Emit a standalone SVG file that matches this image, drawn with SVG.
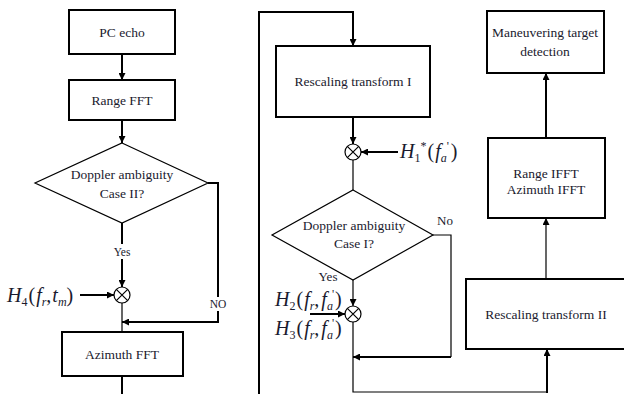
<svg xmlns="http://www.w3.org/2000/svg" width="624" height="394" viewBox="0 0 624 394">
<style>
.box{fill:#fff;stroke:#000;stroke-width:2}
.dia{fill:#fff;stroke:#000;stroke-width:1.2}
.t{font-family:"Liberation Serif",serif;font-size:13.5px;fill:#1a1a2e;text-anchor:middle}
.lbl{font-family:"Liberation Serif",serif;fill:#1a1a2e;text-anchor:middle}
.m{font-family:"Liberation Serif",serif;font-size:20px;font-style:italic;fill:#1a1a2e}
.s{font-size:12px;font-style:normal}
.si{font-size:12px;font-style:italic}
.n{font-style:normal}
.w{fill:none;stroke:#000;stroke-width:2}
.th{fill:none;stroke:#000;stroke-width:1.2}
.mul{fill:#fff;stroke:#000;stroke-width:1.2}
</style>
<defs>
<marker id="ah" viewBox="0 0 10 10" refX="10" refY="5" markerWidth="7" markerHeight="7" markerUnits="userSpaceOnUse" orient="auto">
<path d="M0,0 L10,5 L0,10 z" fill="#000"/>
</marker>
</defs>

<g id="connectors">
<line class="w" x1="122" y1="54" x2="122" y2="80" marker-end="url(#ah)"/>
<line class="w" x1="122" y1="120" x2="122" y2="143" marker-end="url(#ah)"/>
<line class="w" x1="122" y1="223" x2="122" y2="244"/>
<line class="w" x1="122" y1="259" x2="122" y2="287" marker-end="url(#ah)"/>
<line class="w" x1="80" y1="295" x2="114" y2="295" marker-end="url(#ah)"/>
<line class="th" x1="122" y1="303" x2="122" y2="332"/>
<polyline class="w" points="208,183 218,183 218,297"/>
<polyline class="w" points="218,311 218,322 122,322" marker-end="url(#ah)"/>
<line class="w" x1="122" y1="376" x2="122" y2="394"/>
<polyline class="w" points="259,394 259,12 353,12 353,46" marker-end="url(#ah)"/>
<line class="w" x1="353" y1="117" x2="353" y2="144" marker-end="url(#ah)"/>
<line class="w" x1="398" y1="152" x2="361" y2="152" marker-end="url(#ah)"/>
<line class="th" x1="353" y1="160" x2="353" y2="190"/>
<polyline class="th" points="433,235 451,235 451,357"/>
<line class="w" x1="451" y1="357" x2="353" y2="357" marker-end="url(#ah)"/>
<line class="th" x1="353" y1="280" x2="353" y2="306" marker-end="url(#ah)"/>
<line class="w" x1="310" y1="314" x2="345" y2="314" marker-end="url(#ah)"/>
<polyline class="th" points="353,322 353,392 547,392"/>
<line class="w" x1="547" y1="393" x2="547" y2="349" marker-end="url(#ah)"/>
<line class="th" x1="546" y1="279" x2="546" y2="218" marker-end="url(#ah)"/>
<line class="w" x1="546" y1="138" x2="546" y2="73" marker-end="url(#ah)"/>
</g>

<g id="pc-echo">
<rect class="box" x="69" y="10" width="106" height="44"/>
<text class="t" x="122" y="37">PC echo</text>
</g>
<g id="range-fft">
<rect class="box" x="69" y="80" width="106" height="40"/>
<text class="t" x="122" y="105">Range FFT</text>
</g>
<g id="doppler-case2">
<polygon class="dia" points="122,143 208,183 122,223 35,183"/>
<text class="t" x="122" y="179">Doppler ambiguity</text>
<text class="t" x="122" y="198">Case II?</text>
</g>
<g id="yes-left"><text class="lbl" x="122" y="256" font-size="11.5">Yes</text></g>
<g id="no-left"><text class="lbl" x="218" y="308" font-size="11.5">NO</text></g>
<g id="mul-h4">
<circle class="mul" cx="122" cy="295" r="8"/>
<path class="th" d="M116.3,289.3 L127.7,300.7 M127.7,289.3 L116.3,300.7"/>
</g>
<g id="h4-label">
<text class="m" x="7" y="302">H<tspan class="s" dy="4">4</tspan><tspan class="n" dy="-4" dx="1">(</tspan><tspan dx="1">f</tspan><tspan class="si" dy="4">r</tspan><tspan class="n" dy="-4">,</tspan><tspan dx="1">t</tspan><tspan class="si" dy="4">m</tspan><tspan class="n" dy="-4">)</tspan></text>
</g>
<g id="azimuth-fft">
<rect class="box" x="62" y="332" width="121" height="44"/>
<text class="t" x="122" y="359">Azimuth FFT</text>
</g>

<g id="rescaling-1">
<rect class="box" x="276" y="46" width="154" height="71"/>
<text class="t" x="353" y="86">Rescaling transform I</text>
</g>
<g id="mul-h1">
<circle class="mul" cx="353" cy="152" r="8"/>
<path class="th" d="M347.3,146.3 L358.7,157.7 M358.7,146.3 L347.3,157.7"/>
</g>
<g id="h1-label">
<text class="m" x="400" y="158">H<tspan class="s" dy="4">1</tspan><tspan class="s" dy="-12">*</tspan><tspan class="n" dx="1" dy="8">(</tspan><tspan dx="1">f</tspan><tspan class="si" dy="4">a</tspan><tspan class="s" dy="-12">'</tspan><tspan class="n" dx="2" dy="8">)</tspan></text>
</g>
<g id="doppler-case1">
<polygon class="dia" points="353,190 433,235 353,280 272,235"/>
<text class="t" x="354" y="230">Doppler ambiguity</text>
<text class="t" x="354" y="248">Case I?</text>
</g>
<g id="yes-mid"><text class="lbl" x="328" y="281" font-size="13">Yes</text></g>
<g id="no-mid"><text class="lbl" x="445" y="225" font-size="13">No</text></g>
<g id="mul-h23">
<circle class="mul" cx="353" cy="314" r="8"/>
<path class="th" d="M347.3,308.3 L358.7,319.7 M358.7,308.3 L347.3,319.7"/>
</g>
<g id="h2-label">
<text class="m" x="275" y="306">H<tspan class="s" dy="4">2</tspan><tspan class="n" dy="-4" dx="1">(</tspan><tspan dx="1">f</tspan><tspan class="si" dy="4">r</tspan><tspan class="n" dy="-4">,</tspan><tspan dx="2">f</tspan><tspan class="si" dy="4">a</tspan><tspan class="s" dy="-12" dx="-1">'</tspan><tspan class="n" dy="8" dx="1">)</tspan></text>
</g>
<g id="h3-label">
<text class="m" x="275" y="335">H<tspan class="s" dy="4">3</tspan><tspan class="n" dy="-4" dx="1">(</tspan><tspan dx="1">f</tspan><tspan class="si" dy="4">r</tspan><tspan class="n" dy="-4">,</tspan><tspan dx="2">f</tspan><tspan class="si" dy="4">a</tspan><tspan class="s" dy="-12" dx="-1">'</tspan><tspan class="n" dy="8" dx="1">)</tspan></text>
</g>

<g id="rescaling-2">
<rect class="box" x="466" y="279" width="164" height="70"/>
<text class="t" x="546" y="319">Rescaling transform II</text>
</g>
<g id="range-ifft">
<rect class="box" x="488" y="138" width="117" height="80"/>
<text class="t" x="546" y="178">Range IFFT</text>
<text class="t" x="546" y="194">Azimuth IFFT</text>
</g>
<g id="target-detection">
<rect class="box" x="487" y="11" width="117" height="62"/>
<text class="t" x="545" y="37">Maneuvering target</text>
<text class="t" x="545" y="56">detection</text>
</g>
</svg>
